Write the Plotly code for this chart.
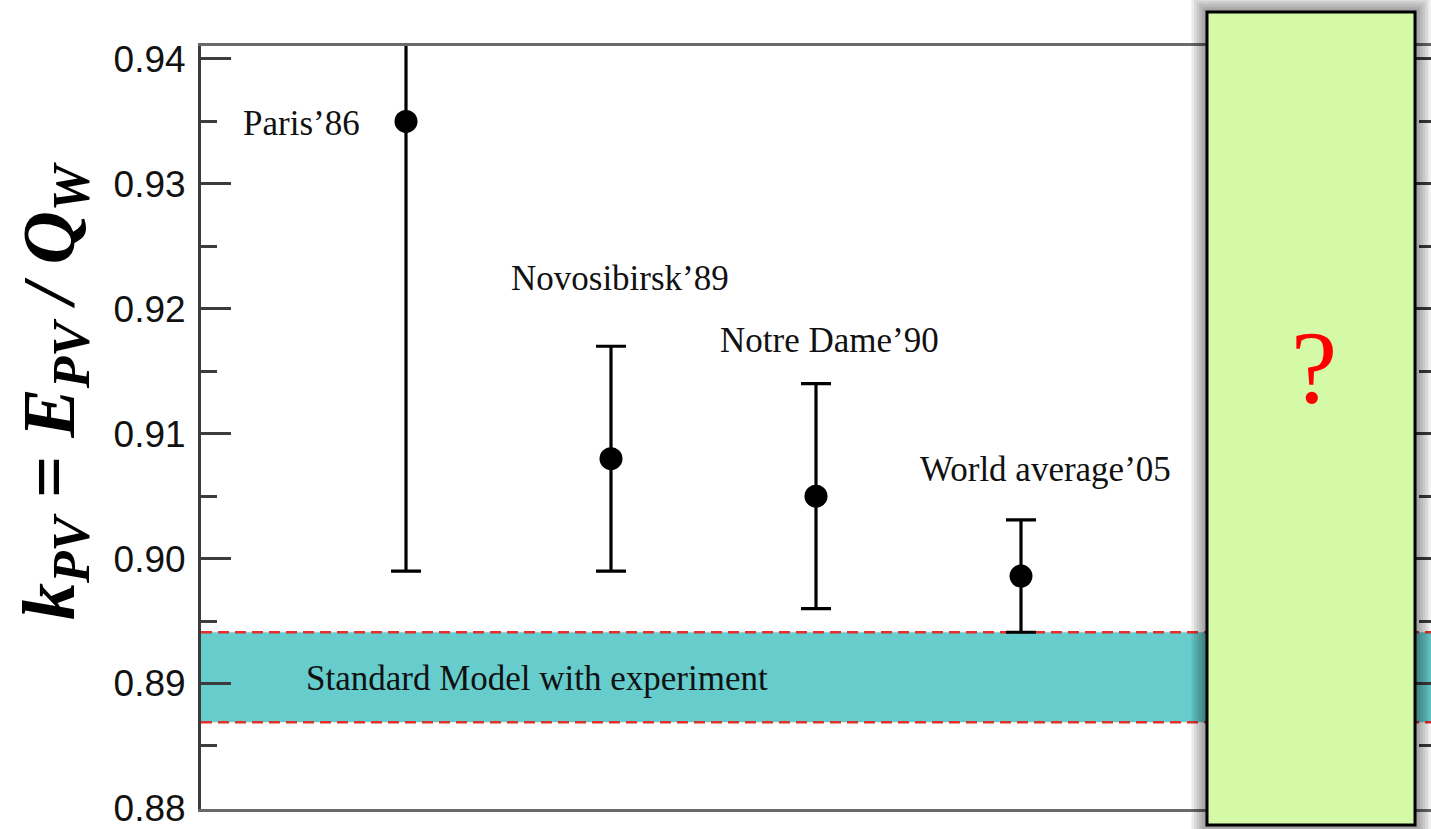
import plotly.graph_objects as go

# Measurements of k_PV = E_PV / Q_W
experiments = ["Paris\u201986", "Novosibirsk\u201989", "Notre Dame\u201990", "World average\u201905"]
positions = [1, 2, 3, 4]
k_pv = [0.935, 0.908, 0.905, 0.8986]
k_err = [0.036, 0.009, 0.009, 0.0045]

# Standard Model band (lower / upper edge)
sm_label = "Standard Model with experiment"
sm_low = 0.8869
sm_high = 0.8941

y_ticks = [0.88, 0.89, 0.90, 0.91, 0.92, 0.93, 0.94]
y_range = [0.87995, 0.94104]
x_range = [0, 6]

W, H = 1431, 829
ML, MR, MT, MB = 201, 0, 46, 18
PW, PH = W - ML - MR, H - MT - MB


def xp(px):
    return (px - ML) / PW


def yp(py):
    return (H - MB - py) / PH


fig = go.Figure()

fig.add_trace(go.Scatter(
    x=positions, y=k_pv, mode="markers",
    marker=dict(size=23, color="black"),
    error_y=dict(type="data", array=k_err, symmetric=True,
                 color="black", thickness=3.2, width=15),
    showlegend=False, hoverinfo="skip",
))
# helper trace so the right-hand tick axis is drawn
fig.add_trace(go.Scatter(x=[], y=[], yaxis="y2", showlegend=False))

# Standard Model band with dashed edges
fig.add_shape(type="rect", xref="paper", yref="y", x0=0, x1=1, y0=sm_low, y1=sm_high,
              fillcolor="#66CCCC", line=dict(width=0), layer="below")
for edge in (sm_low, sm_high):
    fig.add_shape(type="line", xref="paper", yref="y", x0=0, x1=1, y0=edge, y1=edge,
                  line=dict(color="#E2302E", width=2.6, dash="11px,6px"), layer="below")

# Green "?" panel with its soft shadow
bx0, bx1, by0, by1 = 1207, 1415, 12, 827
for i in range(1, 7):
    s = 2.6 * i
    fig.add_shape(type="rect", xref="paper", yref="paper",
                  x0=xp(bx0 - s), x1=xp(bx1 + s), y0=yp(by1 + s), y1=yp(by0 - s),
                  fillcolor="rgba(0,0,0,0.075)", line=dict(width=0), layer="above")
fig.add_shape(type="rect", xref="paper", yref="paper",
              x0=xp(bx0), x1=xp(bx1), y0=yp(by1), y1=yp(by0),
              fillcolor="#D4FAA8", line=dict(color="black", width=3), layer="above")

serif = "Liberation Serif, Times New Roman, serif"
label_specs = [
    dict(xanchor="right", xshift=-44, y=0.9348),
    dict(xanchor="center", xshift=9, y=0.9224),
    dict(xanchor="center", xshift=13, y=0.9175),
    dict(xanchor="center", xshift=24, y=0.9071),
]
for name, xpos, spec in zip(experiments, positions, label_specs):
    fig.add_annotation(x=xpos, y=spec["y"], xref="x", yref="y", text=name,
                       showarrow=False, xanchor=spec["xanchor"], yanchor="middle",
                       xshift=spec["xshift"], font=dict(family=serif, size=35, color="#111"))

fig.add_annotation(x=xp(304), y=(sm_low + sm_high) / 2, xref="paper", yref="y",
                   text=sm_label, showarrow=False, xanchor="left", yanchor="middle",
                   yshift=-1, font=dict(family=serif, size=35, color="#111"))

fig.add_annotation(x=xp(1314), y=yp(368), xref="paper", yref="paper", text="?",
                   showarrow=False, xanchor="center", yanchor="middle",
                   font=dict(family=serif, size=104, color="#FF0000"))

fig.add_annotation(x=xp(54), y=yp(392), xref="paper", yref="paper",
                   text="<b><i>k<sub>PV</sub> = E<sub>PV</sub> / Q<sub>W</sub></i></b>",
                   textangle=-90, showarrow=False, xanchor="center", yanchor="middle",
                   font=dict(family=serif, size=74, color="black"))

axis_color = "#3c3c3c"
fig.update_layout(
    width=W, height=H,
    margin=dict(l=ML, r=MR, t=MT, b=MB, pad=0),
    paper_bgcolor="white", plot_bgcolor="white",
    xaxis=dict(range=x_range, showgrid=False, zeroline=False, showticklabels=False,
               ticks="", showline=True, mirror=True, linecolor="#6a6a6a", linewidth=3),
    yaxis=dict(range=y_range, tickvals=y_ticks, tickformat=".2f", showgrid=False,
               zeroline=False, ticks="inside", ticklen=30, tickwidth=3, tickcolor=axis_color,
               showline=True, linecolor=axis_color, linewidth=3, ticklabelstandoff=5,
               ticklabeloverflow="allow",
               tickfont=dict(family="Liberation Sans, Arial, sans-serif", size=37, color="#111"),
               minor=dict(ticks="inside", ticklen=16, tickwidth=3, tickcolor=axis_color,
                          dtick=0.005, tick0=0.88, showgrid=False)),
    yaxis2=dict(range=y_range, overlaying="y", side="right", anchor="x",
                tickvals=y_ticks, showticklabels=False, showgrid=False, zeroline=False,
                showline=False, ticks="inside", ticklen=30, tickwidth=3, tickcolor=axis_color,
                minor=dict(ticks="inside", ticklen=12, tickwidth=3, tickcolor=axis_color,
                           dtick=0.005, tick0=0.88, showgrid=False)),
    showlegend=False,
)

fig.write_html("out.html")
